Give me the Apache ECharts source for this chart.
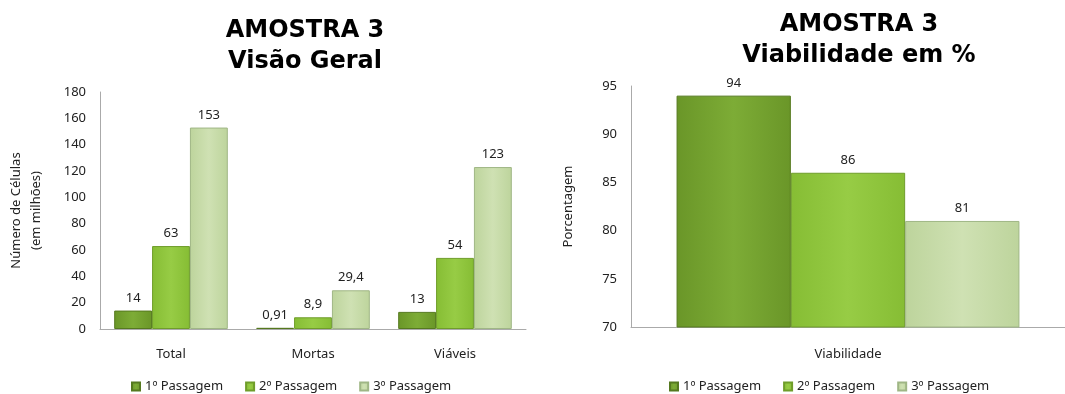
<!DOCTYPE html>
<html>
<head>
<meta charset="utf-8">
<script src="https://cdn.jsdelivr.net/npm/echarts@6/dist/echarts.min.js"></script>
<style>
  html, body { margin: 0; padding: 0; background: #fff; }
  #chart { width: 1065px; height: 394px; }
</style>
</head>
<body>
<div id="chart"></div>
<script>
const seriesNames = ['1º Passagem', '2º Passagem', '3º Passagem'];

// left chart: Visão Geral (milhões de células)
const overviewCategories = ['Total', 'Mortas', 'Viáveis'];
const overviewPass1 = [14, 0.91, 13];
const overviewPass2 = [63, 8.9, 54];
const overviewPass3 = [153, 29.4, 123];

// right chart: viabilidade em %
const viabilityCategories = ['Viabilidade'];
const viabilityPass1 = [94];
const viabilityPass2 = [86];
const viabilityPass3 = [81];

(function () {
    const chart = echarts.init(document.getElementById('chart'));
    const font = 'Noto Sans';

    function grad(c0, c1, c2) {
        return new echarts.graphic.LinearGradient(0, 0, 1, 0, [
            { offset: 0, color: c0 },
            { offset: 0.5, color: c1 },
            { offset: 1, color: c2 }
        ]);
    }
    const fills = [
        grad('#6a9628', '#7dac36', '#6a9628'),
        grad('#86bd34', '#97cc45', '#86bd34'),
        grad('#bdd49c', '#cfe1b3', '#bdd49c')
    ];
    const borders = ['#55791f', '#6f9d2a', '#9fb685'];

    function fmt(p) {
        return String(p.value).replace('.', ',');
    }

    function makeSeries(idx, data, axisIdx) {
        return {
            name: seriesNames[idx],
            type: 'bar',
            xAxisIndex: axisIdx,
            yAxisIndex: axisIdx,
            data: data,
            barGap: '0%',
            barCategoryGap: axisIdx === 0 ? '20%' : '21%',
            itemStyle: {
                color: fills[idx],
                borderColor: borders[idx],
                borderWidth: 1
            },
            label: {
                show: true,
                position: 'top',
                distance: 6,
                formatter: fmt,
                color: '#222',
                fontFamily: font,
                fontSize: 13
            },
            emphasis: { disabled: true }
        };
    }

    const axisLabel = { color: '#222', fontFamily: font, fontSize: 13 };
    const axisLine = { show: true, lineStyle: { color: '#aaa', width: 1 } };
    const legendBase = {
        data: seriesNames,
        top: 375,
        itemWidth: 8,
        itemHeight: 8,
        itemGap: 22,
        icon: 'rect',
        textStyle: { color: '#222', fontFamily: font, fontSize: 13 }
    };

    const option = {
        animation: false,
        backgroundColor: '#fff',
        title: [{
            text: 'AMOSTRA 3\nVisão Geral',
            left: 300,
            top: 10,
            textAlign: 'center',
            textStyle: {
                fontFamily: 'DejaVu Sans',
                fontWeight: 'bold',
                fontSize: 24,
                lineHeight: 31,
                color: '#000'
            }
        }, {
            text: 'AMOSTRA 3\nViabilidade em %',
            left: 854,
            top: 4,
            textAlign: 'center',
            textStyle: {
                fontFamily: 'DejaVu Sans',
                fontWeight: 'bold',
                fontSize: 24,
                lineHeight: 31,
                color: '#000'
            }
        }],
        legend: [
            Object.assign({ left: 126 }, legendBase),
            Object.assign({ left: 664 }, legendBase)
        ],
        grid: [
            { left: 100, top: 92, width: 426, height: 237 },
            { left: 631, top: 86, width: 442, height: 241 }
        ],
        xAxis: [{
            type: 'category',
            gridIndex: 0,
            data: overviewCategories,
            axisLine: axisLine,
            axisTick: { show: false },
            axisLabel: Object.assign({ margin: 19 }, axisLabel)
        }, {
            type: 'category',
            gridIndex: 1,
            data: viabilityCategories,
            axisLine: axisLine,
            axisTick: { show: false },
            axisLabel: Object.assign({ margin: 21 }, axisLabel)
        }],
        yAxis: [{
            type: 'value',
            gridIndex: 0,
            min: 0,
            max: 180,
            interval: 20,
            name: 'Número de Células\n(em milhões)',
            nameLocation: 'middle',
            nameGap: 54,
            nameTextStyle: { color: '#222', fontFamily: font, fontSize: 13, lineHeight: 20 },
            axisLine: axisLine,
            axisTick: { show: false },
            splitLine: { show: false },
            axisLabel: Object.assign({ margin: 14 }, axisLabel)
        }, {
            type: 'value',
            gridIndex: 1,
            min: 70,
            max: 95,
            interval: 5,
            name: 'Porcentagem',
            nameLocation: 'middle',
            nameGap: 56,
            nameTextStyle: { color: '#222', fontFamily: font, fontSize: 13 },
            axisLine: axisLine,
            axisTick: { show: false },
            splitLine: { show: false },
            axisLabel: Object.assign({ margin: 14 }, axisLabel)
        }],
        series: [
            makeSeries(0, overviewPass1, 0),
            makeSeries(1, overviewPass2, 0),
            makeSeries(2, overviewPass3, 0),
            makeSeries(0, viabilityPass1, 1),
            makeSeries(1, viabilityPass2, 1),
            makeSeries(2, viabilityPass3, 1)
        ]
    };
    chart.setOption(option);
    window.addEventListener('resize', function () {
        chart.resize();
    });
})();
</script>
</body>
</html>
